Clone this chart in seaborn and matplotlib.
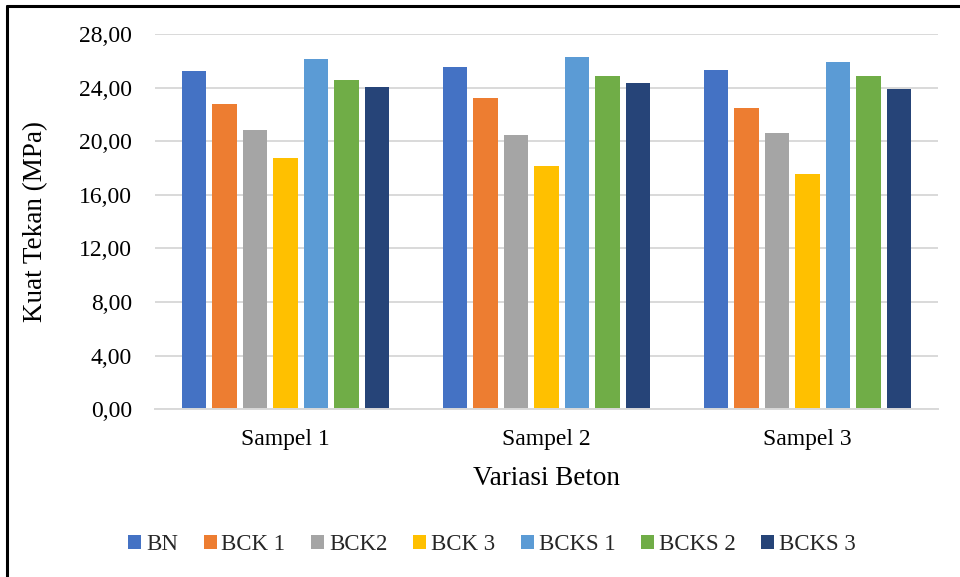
import matplotlib
matplotlib.use("Agg")
import matplotlib.pyplot as plt
from matplotlib.lines import Line2D
from matplotlib.ticker import FuncFormatter
import seaborn as sns
import pandas as pd

# Compressive strength results per concrete variation
samples = ["Sampel 1", "Sampel 2", "Sampel 3"]
variations = ["BN", "BCK 1", "BCK2", "BCK 3", "BCKS 1", "BCKS 2", "BCKS 3"]
bn = [25.24, 25.54, 25.32]
bck1 = [22.78, 23.23, 22.48]
bck2 = [20.80, 20.45, 20.61]
bck3 = [18.77, 18.13, 17.56]
bcks1 = [26.14, 26.29, 25.95]
bcks2 = [24.58, 24.85, 24.87]
bcks3 = [24.03, 24.37, 23.92]
colors = ["#4472C4", "#ED7D31", "#A5A5A5", "#FFC000", "#5B9BD5", "#70AD47", "#264478"]
yticks = [0, 4, 8, 12, 16, 20, 24, 28]

series = [bn, bck1, bck2, bck3, bcks1, bcks2, bcks3]
rows = []
for name, vals in zip(variations, series):
    for s, v in zip(samples, vals):
        rows.append({"Sampel": s, "Variasi": name, "Kuat": v})
df = pd.DataFrame(rows)

sns.set_theme(style="white")
plt.rcParams["font.family"] = ["Liberation Serif", "DejaVu Serif"]

fig = plt.figure(figsize=(9.6, 5.77), dpi=100)
ax = fig.add_axes([0.1615, 0.291, 0.977 - 0.1615, 0.941 - 0.291])

sns.barplot(data=df, x="Sampel", y="Kuat", hue="Variasi", order=samples,
            hue_order=variations, palette=colors, width=0.82, gap=0.2,
            saturation=1, edgecolor="none", linewidth=0, ax=ax, legend=True)

ax.set_ylim(0, 28)
ax.set_yticks(yticks)
ax.yaxis.set_major_formatter(FuncFormatter(lambda v, p: f"{v:.2f}".replace(".", ",")))
ax.grid(axis="y", color="#D9D9D9", linewidth=1.4)
ax.set_axisbelow(True)
for side in ["top", "right", "left"]:
    ax.spines[side].set_visible(False)
ax.spines["bottom"].set_color("#D9D9D9")
ax.spines["bottom"].set_linewidth(1.4)
ax.tick_params(axis="both", length=0, labelsize=17, colors="black")
ax.tick_params(axis="y", pad=16.5)
ax.tick_params(axis="x", pad=14)
ax.set_xlim(-0.5, 2.5)

ax.set_ylabel("Kuat Tekan (MPa)", fontsize=19.5, color="black", labelpad=22)
ax.set_xlabel("Variasi Beton", fontsize=19.5, color="black", labelpad=12)

handles, labels = ax.get_legend_handles_labels()
ax.get_legend().remove()
fig.legend(handles, labels, loc="center",
           bbox_to_anchor=(0.5 + 12 / 960, 1 - 545 / 577),
           ncol=7, frameon=False, fontsize=16.5, handlelength=0.57,
           handleheight=0.57, handletextpad=0.2, columnspacing=1.13)

# Frame lines along the top and left edges of the figure
fig.add_artist(Line2D([7 / 960, 7 / 960], [0, 1 - 6 / 577], color="black",
                      linewidth=2.2, transform=fig.transFigure))
fig.add_artist(Line2D([7 / 960, 1], [1 - 6 / 577, 1 - 6 / 577], color="black",
                      linewidth=2.2, transform=fig.transFigure))

fig.savefig("out.png", dpi=100)
